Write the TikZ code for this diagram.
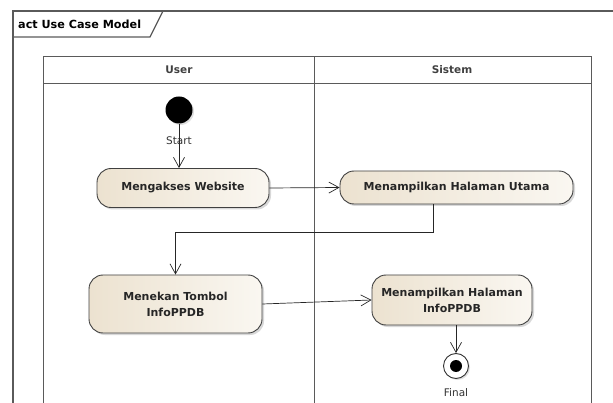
\documentclass[tikz,border=0pt]{standalone}
\usepackage{fontspec}
\setmainfont{DejaVu Sans}
\usetikzlibrary{arrows.meta,shadows}
\definecolor{nodeL}{RGB}{236,226,208}
\definecolor{nodeR}{RGB}{250,247,241}
\definecolor{linegray}{RGB}{90,90,90}
\begin{document}
\begin{tikzpicture}[x=1pt,y=-1pt,
  act/.style={draw=black!75, line width=0.9pt, rounded corners=14pt,
    left color=nodeL, right color=nodeR, align=center, inner sep=0pt,
    font=\bfseries\fontsize{11}{16}\selectfont, text=black!85,
    drop shadow={shadow xshift=2pt, shadow yshift=-2pt, fill=black!30}},
  flow/.style={draw=black!85, line width=0.7pt, -{Straight Barb[length=10pt,width=11pt]}},
  lane/.style={draw=linegray, line width=1pt},
  lanehead/.style={font=\bfseries\fontsize{10.5}{12}\selectfont, text=black!75},
  plain/.style={font=\fontsize{10.5}{12}\selectfont, text=black!80},
]
\useasboundingbox (0,0) rectangle (613,403);
% frame
\draw[linegray, line width=1.2pt] (13,403) -- (13,11) -- (613,11);
\draw[linegray, line width=1.2pt] (13,37) -- (150,37) -- (163,11);
\node[anchor=west, inner sep=0pt, font=\bfseries\fontsize{11.2}{13}\selectfont] (title) at (18,24) {act Use Case Model};
% swimlanes
\draw[lane] (43,403) -- (43,57) -- (591,57) -- (591,403);
\draw[lane] (43,84) -- (591,84);
\draw[lane] (314,57) -- (314,403);
\node[lanehead] (user) at (179,70) {User};
\node[lanehead] (sistem) at (452,70) {Sistem};
% nodes
\node[circle, fill=black, minimum size=27pt, inner sep=0pt,
  drop shadow={shadow xshift=1.5pt, shadow yshift=-1.5pt, fill=black!25}] (start) at (179,110) {};
\node[act, minimum width=172pt, minimum height=39pt] (mw) at (183,188) {Mengakses Website};
\node[act, minimum width=233pt, minimum height=33pt] (mu) at (456.5,187.5) {Menampilkan Halaman Utama};
\node[act, minimum width=173pt, minimum height=58pt] (mt) at (175.5,304) {Menekan Tombol\\InfoPPDB};
\node[act, minimum width=160pt, minimum height=50pt] (mi) at (452,300) {Menampilkan Halaman\\InfoPPDB};
\node[circle, draw=black!80, line width=0.9pt, fill=white, minimum size=25pt, inner sep=0pt,
  drop shadow={shadow xshift=1.5pt, shadow yshift=-1.5pt, fill=black!25}] (final) at (456,366) {};
\node[circle, fill=black, minimum size=12pt, inner sep=0pt] (finaldot) at (final.center) {};
% connectors
\draw[flow] (start) -- (start |- mw.north);
\node[plain] (startlbl) at (179,141) {Start};
\draw[flow] (mw.east) -- (mu.west);
\coordinate (c1) at (433,232);
\draw[flow] (mu.south -| c1) -- (c1) -| (mt.north);
\draw[flow] (mt.east) -- (mi.west);
\draw[flow] (final |- mi.south) -- (final);
\node[plain] (finallbl) at (456,393) {Final};
\end{tikzpicture}
\end{document}
